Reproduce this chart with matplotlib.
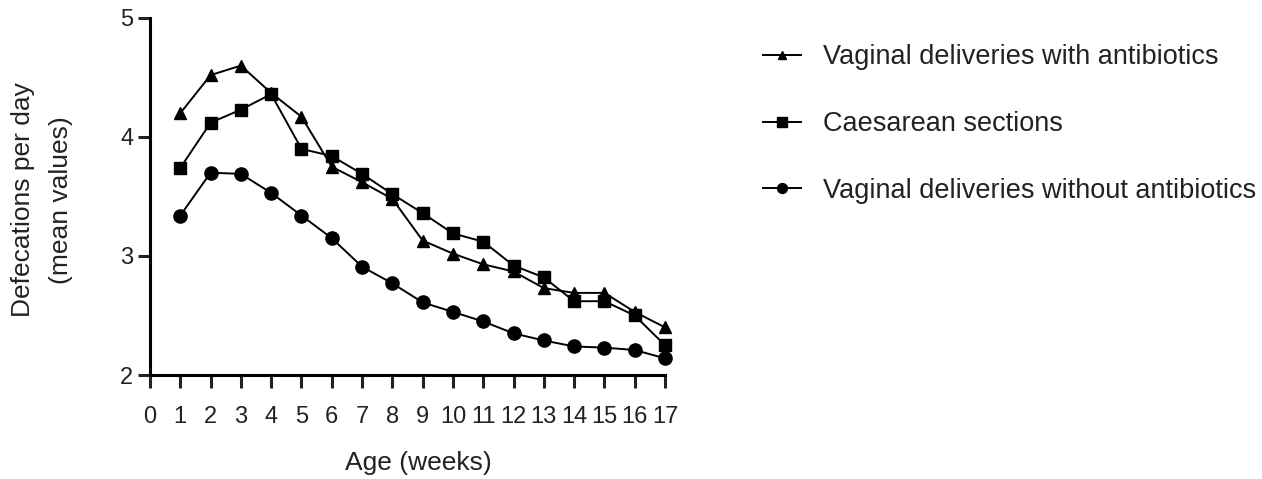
import matplotlib
matplotlib.use("Agg")
import matplotlib.pyplot as plt

plt.rcParams['font.family'] = ['Liberation Sans', 'DejaVu Sans']

# data
weeks = list(range(1, 18))
vag_with_ab = [4.20, 4.52, 4.60, 4.37, 4.17, 3.75, 3.62, 3.48, 3.13, 3.02, 2.93, 2.87, 2.73, 2.69, 2.69, 2.53, 2.40]
caesarean = [3.74, 4.12, 4.23, 4.36, 3.90, 3.84, 3.69, 3.52, 3.36, 3.19, 3.12, 2.92, 2.82, 2.62, 2.62, 2.50, 2.25]
vag_without_ab = [3.34, 3.70, 3.69, 3.53, 3.34, 3.15, 2.91, 2.77, 2.61, 2.53, 2.45, 2.35, 2.29, 2.24, 2.23, 2.21, 2.14]
labels = ['Vaginal deliveries with antibiotics', 'Caesarean sections',
          'Vaginal deliveries without antibiotics']

fig = plt.figure(figsize=(12.62, 4.79), dpi=100)
ax = fig.add_axes([150/1262, 1-375/479, 515/1262, 357/479])

lw = 1.4
ax.plot(weeks, vag_with_ab, color='black', lw=lw, marker='^', ms=8.5, label=labels[0], clip_on=False)
ax.plot(weeks, caesarean, color='black', lw=lw, marker='s', ms=9, label=labels[1], clip_on=False)
ax.plot(weeks, vag_without_ab, color='black', lw=lw, marker='o', ms=9.5, label=labels[2], clip_on=False)

ax.set_xlim(0, 17)
ax.set_ylim(2, 5)
ax.set_xticks(range(0, 18))
ax.set_yticks([2, 3, 4, 5])
for s in ['top', 'right']:
    ax.spines[s].set_visible(False)
for s in ['left', 'bottom']:
    ax.spines[s].set_linewidth(2.2)
ax.tick_params(direction='out', width=2.2, length=9, labelsize=17, colors='#222222')
ax.tick_params(axis='x', pad=13)
ax.tick_params(axis='y', pad=3)

ax.set_xlabel('Age (weeks)', fontsize=19, color='#222222')
ax.set_ylabel('Defecations per day\n(mean values)', fontsize=19, linespacing=1.75, color='#222222')
ax.xaxis.set_label_coords((418-150)/515, (375-463)/357)
ax.yaxis.set_label_coords((42-150)/515, (375-200)/357)
ax.xaxis.label.set_va('center')
ax.yaxis.label.set_va('center')

fig.legend(loc='upper left', bbox_to_anchor=(739/1262, 1-20/479), frameon=False,
           fontsize=19.5, markerscale=0.75, handlelength=1.4, labelspacing=1.5,
           handletextpad=0.8, labelcolor='#222222')

fig.savefig('out.png', dpi=100)
